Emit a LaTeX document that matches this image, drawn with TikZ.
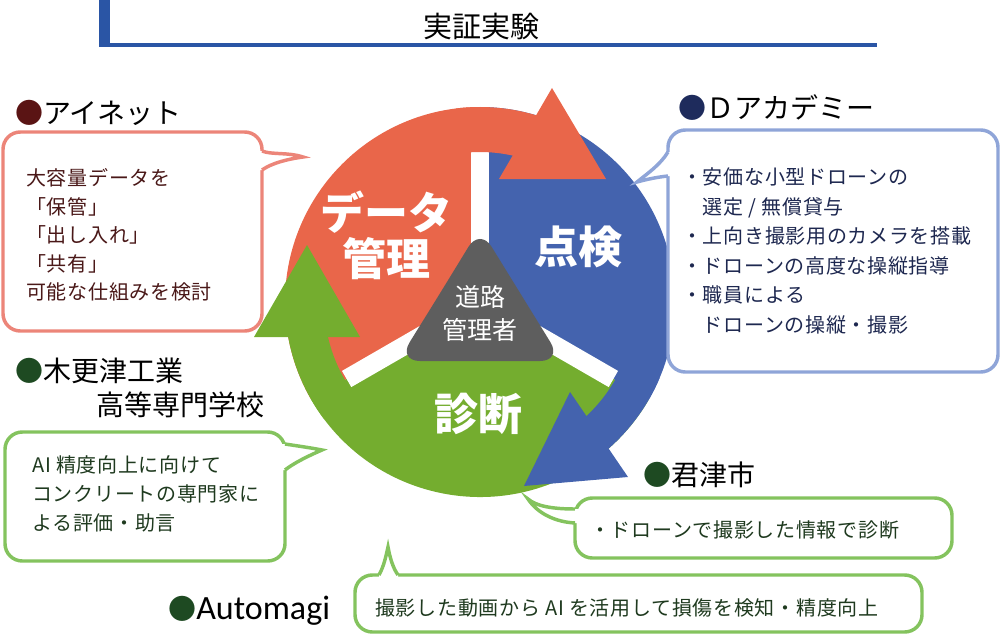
\documentclass[tikz,border=0pt]{standalone}
\usepackage{fontspec}
\setmainfont{Noto Sans CJK JP}
\newfontfamily\jpls[LetterSpace=3.5]{Noto Sans CJK JP}
\newfontfamily\latfont{Carlito}
\usetikzlibrary{calc}
\definecolor{corange}{HTML}{E9664A}
\definecolor{cblue}{HTML}{4463AE}
\definecolor{cgreen}{HTML}{74AD2F}
\definecolor{cgray}{HTML}{5E5E5E}
\definecolor{titleblue}{HTML}{2A55A5}
\definecolor{pinkline}{HTML}{EC8579}
\definecolor{lavline}{HTML}{8FA5D8}
\definecolor{lgline}{HTML}{84C35E}
\definecolor{dotmaroon}{HTML}{5A1414}
\definecolor{dotnavy}{HTML}{1E2B5C}
\definecolor{dotgreen}{HTML}{1E4A22}
\definecolor{txtbrown}{HTML}{4A1818}
\definecolor{txtnavy}{HTML}{1E2850}
\definecolor{txtgreen}{HTML}{1F3A1F}
\begin{document}
\begin{tikzpicture}[x=0.75pt,y=0.75pt,
  hdr/.style={inner sep=0pt, font=\fontsize{21}{25.5}\selectfont, text=black, align=left, anchor=west},
  body/.style={inner sep=0pt, align=left, anchor=west},
  big/.style={text=white, font=\bfseries\fontsize{33}{34.5}\selectfont, align=center, inner sep=0pt},
  bub/.style={fill=white, line width=2.6pt, rounded corners=13pt},
  tailline/.style={line width=2.6pt},
]
\useasboundingbox (0,0) rectangle (1000,-635);

% title bracket
\fill[titleblue] (99,0) rectangle (110,-47);
\fill[titleblue] (99,-43) rectangle (877,-47);
\node[inner sep=0pt, font=\fontsize{21.75}{26}\selectfont] (title) at (481,-27) {実証実験};

% cycle diagram
\coordinate (C) at (480,-302);
\fill[corange] (C) -- ($(C)+(90:195)$) arc[start angle=90,end angle=210,radius=195] -- cycle;
\fill[cblue] (C) -- ($(C)+(-30:195)$) arc[start angle=-30,end angle=90,radius=195] -- cycle;
\fill[cgreen] (C) -- ($(C)+(210:195)$) arc[start angle=210,end angle=330,radius=195] -- cycle;
\foreach \a in {90,210,330} \draw[white, line width=14pt] (C) -- ($(C)+(\a:154)$);
% arrow bands and heads
\fill[corange] ($(C)+(97:195)$) arc[start angle=97,end angle=72,radius=195] -- ($(C)+(72:150)$) arc[start angle=72,end angle=97,radius=150] -- cycle;
\fill[corange] (499,-179) -- (552,-88) -- (606,-179) -- cycle;
\fill[cblue] ($(C)+(-23:195)$) arc[start angle=-23,end angle=-49,radius=195] -- ($(C)+(-49:156)$) arc[start angle=-49,end angle=-23,radius=156] -- cycle;
\fill[cblue] (570,-392) -- (628,-477) -- (524,-486) -- cycle;
\fill[cgreen] ($(C)+(217:195)$) arc[start angle=217,end angle=189,radius=195] -- ($(C)+(189:156)$) arc[start angle=189,end angle=217,radius=156] -- cycle;
\fill[cgreen] (254,-337) -- (307,-245) -- (360,-337) -- cycle;
% center triangle
\fill[cgray, rounded corners=16.5pt] (439,-295) -- (480,-228) -- (562,-361) -- (398,-361) -- cycle;
\node[inner sep=0pt, text=white, align=center, font=\fontsize{18.75}{24.75}\selectfont] (mgr) at (480,-313) {道路\\管理者};
\node[big] (data) at (386,-235) {データ\\管理};
\node[big] (tenken) at (578,-247) {点検};
\node[big] (shindan) at (478,-414) {診断};

% bubble: Ainet
\draw[pinkline, bub] (3,-132) rectangle (262,-331);
\fill[white] (258,-151) -- (262,-151) .. controls (272,-155) and (288,-152) .. (303,-157) .. controls (288,-159) and (272,-163) .. (262,-170) -- (258,-170) -- cycle;
\draw[pinkline, tailline] (262,-151) .. controls (272,-155) and (288,-152) .. (303,-157) .. controls (288,-159) and (272,-163) .. (262,-170);
\node[hdr] (ainet) at (15,-113) {\textcolor{dotmaroon}{●}アイネット};
\node[body, text=txtbrown, font=\jpls\fontsize{15}{21.4}\selectfont] (ainettxt) at (26,-235) {大容量データを\\「保管」\\「出し入れ」\\「共有」\\可能な仕組みを検討};

% bubble: D academy
\draw[lavline, bub] (668,-130) rectangle (998,-372);
\fill[white] (672,-152) -- (668,-152) .. controls (660,-165) and (648,-173) .. (637,-182) .. controls (648,-179) and (658,-177) .. (668,-176) -- (672,-176) -- cycle;
\draw[lavline, tailline] (668,-152) .. controls (660,-165) and (648,-173) .. (637,-182) .. controls (648,-179) and (658,-177) .. (668,-176);
\node[hdr] (dacad) at (678,-108) {\textcolor{dotnavy}{●}Ｄアカデミー};
\node[body, text=txtnavy, font=\jpls\fontsize{15}{22.2}\selectfont] (dacadtxt) at (682,-251) {・安価な小型ドローンの\\　選定 / 無償貸与\\・上向き撮影用のカメラを搭載\\・ドローンの高度な操縦指導\\・職員による\\　ドローンの操縦・撮影};

% bubble: Kisarazu
\draw[lgline, bub] (5,-432) rectangle (285,-561);
\fill[white] (281,-444) -- (285,-444) .. controls (298,-446) and (312,-448) .. (322,-450) .. controls (308,-456) and (294,-463) .. (285,-470) -- (281,-470) -- cycle;
\draw[lgline, tailline] (285,-444) .. controls (298,-446) and (312,-448) .. (322,-450) .. controls (308,-456) and (294,-463) .. (285,-470);
\node[hdr] (kisa) at (15,-388) {\textcolor{dotgreen}{●}木更津工業\\\hspace*{60.75pt}高等専門学校};
\node[body, text=txtgreen, font=\jpls\fontsize{15}{21.75}\selectfont] (kisatxt) at (32,-494) {AI 精度向上に向けて\\コンクリートの専門家に\\よる評価・助言};

% bubble: Kimitsu
\draw[lgline, bub] (575,-498) rectangle (952,-558);
\fill[white] (579,-509) -- (575,-509) .. controls (552,-509) and (536,-506) .. (528,-499) .. controls (538,-514) and (556,-522) .. (575,-523) -- (579,-523) -- cycle;
\draw[lgline, tailline] (575,-509) .. controls (552,-509) and (536,-506) .. (528,-499) .. controls (538,-514) and (556,-522) .. (575,-523);
\node[hdr] (kimi) at (643,-475) {\textcolor{dotgreen}{●}君津市};
\node[body, text=txtgreen, font=\jpls\fontsize{15}{21.75}\selectfont] (kimitxt) at (590,-530) {・ドローンで撮影した情報で診断};

% bubble: Automagi
\draw[lgline, bub] (355,-575) rectangle (922,-632);
\fill[white] (379,-579) -- (379,-575) .. controls (384,-566) and (386,-556) .. (388,-547) .. controls (390,-558) and (393,-568) .. (398,-575) -- (398,-579) -- cycle;
\draw[lgline, tailline] (379,-575) .. controls (384,-566) and (386,-556) .. (388,-547) .. controls (390,-558) and (393,-568) .. (398,-575);
\node[inner sep=0pt, anchor=base west, font=\fontsize{21}{25.5}\selectfont] (auto) at (168,-619) {\textcolor{dotgreen}{●}{\latfont\fontsize{25.5}{30}\selectfont Automagi}};
\node[body, text=txtgreen, font=\jpls\fontsize{15}{21.75}\selectfont] (autotxt) at (375,-608) {撮影した動画から AI を活用して損傷を検知・精度向上};
\end{tikzpicture}
\end{document}
